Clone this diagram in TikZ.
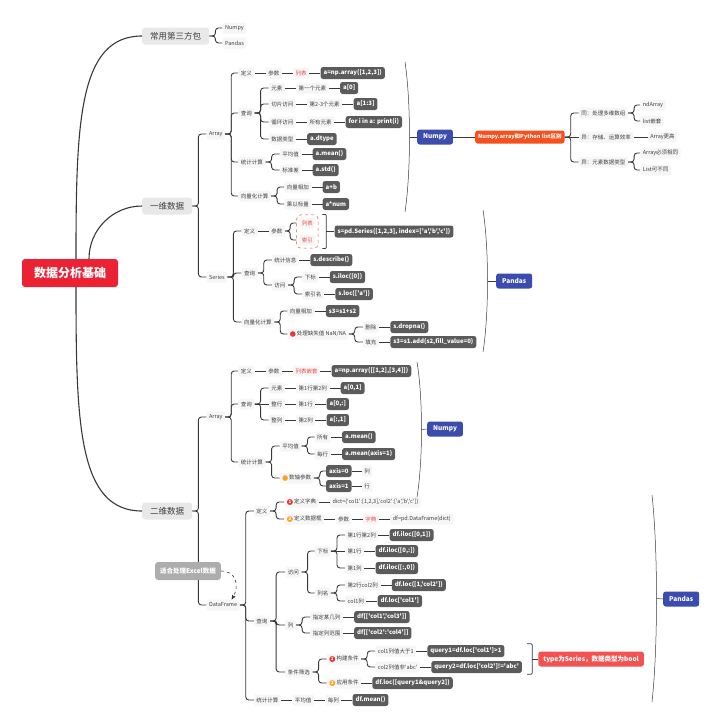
\documentclass[tikz,border=0pt]{standalone}
\usepackage{fontspec}
\setmainfont{Noto Sans CJK SC}[Ligatures=TeXOff]
\usepackage{tikz}
\usetikzlibrary{arrows.meta,positioning,fit,calc}

\definecolor{rootred}{HTML}{EB2233}
\definecolor{topicgray}{HTML}{E8E8E8}
\definecolor{leafgray}{HTML}{F6F6F6}
\definecolor{codegray}{HTML}{5B5B5B}
\definecolor{hubblue}{HTML}{3C4BAE}
\definecolor{diffred}{HTML}{F4511E}
\definecolor{typered}{HTML}{F25252}
\definecolor{xlgray}{HTML}{ADADAD}
\definecolor{linkgray}{HTML}{383838}
\definecolor{hotred}{HTML}{F04848}
\definecolor{dashred}{HTML}{E85050}
\definecolor{dotred}{HTML}{E53935}
\definecolor{dotorange}{HTML}{F6A623}

\newcommand\badge[2]{\tikz[baseline=-0.6ex]\node[circle,fill=#1,text=white,inner sep=0pt,
  minimum size=6pt,font=\bfseries\fontsize{4.5}{4.5}\selectfont]{#2};}
\newcommand\dotmark[1]{\tikz[baseline=-0.6ex]\fill[#1] (0,0) circle (2.8pt);}

\begin{document}
\begin{tikzpicture}[
    x=1pt, y=1pt,
    >={Stealth[round]},
    root/.style={fill=rootred, text=white, rounded corners=3pt,
                 font=\bfseries\fontsize{12}{14}\selectfont, minimum height=28pt, inner xsep=12pt},
    topic/.style={fill=topicgray, text=black!75, rounded corners=3pt,
                  font=\fontsize{8.5}{10}\selectfont, minimum height=17pt, inner xsep=8pt},
    leaf/.style={fill=leafgray, text=black!75, rounded corners=2pt,
                 font=\fontsize{5.5}{6.5}\selectfont, minimum height=11pt, inner xsep=2.5pt, inner ysep=1pt},
    hot/.style={leaf, text=hotred},
    code/.style={fill=codegray, text=white, rounded corners=2.5pt,
                 font=\bfseries\fontsize{6}{7}\selectfont, minimum height=12pt, inner xsep=3pt, inner ysep=1pt},
    hub/.style={fill=hubblue, text=white, rounded corners=2.5pt,
                font=\bfseries\fontsize{6.5}{8}\selectfont, minimum height=15pt, inner xsep=6pt},
    diff/.style={hub, fill=diffred, font=\bfseries\fontsize{5.5}{6.5}\selectfont, minimum height=13pt, inner xsep=3pt},
    typebox/.style={hub, fill=typered, font=\bfseries\fontsize{6.5}{7.5}\selectfont, inner xsep=5pt},
    excel/.style={fill=xlgray, text=white, rounded corners=3pt,
                  font=\bfseries\fontsize{6.5}{7.5}\selectfont, minimum height=18pt, inner xsep=5pt},
    dashbox/.style={draw=dashred, dashed, rounded corners=4pt, inner sep=2.5pt, line width=0.5pt},
    link/.style={draw=linkgray, line width=0.9pt, rounded corners=3pt},
    trunk/.style={draw=linkgray, line width=1.1pt},
    brk/.style={draw=linkgray, line width=0.5pt},
  ]
    \useasboundingbox (0,0) rectangle (720,-728);

    % --- root and main topics ---
    \node[root] (root) at (70,-273) {数据分析基础};
    \node[topic, anchor=west] (pkg) at (142,-36) {常用第三方包};
    \node[topic, anchor=west] (d1) at (142,-206) {一维数据};
    \node[topic, anchor=west] (d2) at (142,-511) {二维数据};

    \node[leaf, right=13pt of pkg, yshift=8pt] (pnp) {Numpy};
    \node[leaf, right=13pt of pkg, yshift=-7pt] (ppd) {Pandas};

    % --- 1D: Array ---
    \node[leaf, right=14pt of d1, yshift=72pt] (a1) {Array};
    \node[leaf, right=13pt of a1, yshift=61pt] (a1def) {定义};
    \node[leaf, right=11pt of a1def] (a1par) {参数};
    \node[hot, right=11pt of a1par] (a1lst) {列表};
    \node[code, right=11pt of a1lst] (a1arr) {a=np.array([1,2,3])};

    \node[leaf, right=13pt of a1, yshift=21pt] (a1qry) {查询};
    \node[leaf, right=14pt of a1qry, yshift=25pt] (a1el) {元素};
    \node[leaf, right=11pt of a1el] (a1first) {第一个元素};
    \node[code, right=11pt of a1first] (a1idx) {a[0]};
    \node[leaf, right=14pt of a1qry, yshift=9pt] (a1sl) {切片访问};
    \node[leaf, right=11pt of a1sl] (a1two) {第2-3个元素};
    \node[code, right=11pt of a1two] (a1slc) {a[1:3]};
    \node[leaf, right=14pt of a1qry, yshift=-9pt] (a1lp) {循环访问};
    \node[leaf, right=11pt of a1lp] (a1all) {所有元素};
    \node[code, right=11pt of a1all] (a1for) {for i in a: print(i)};
    \node[leaf, right=14pt of a1qry, yshift=-26pt] (a1ty) {数据类型};
    \node[code, right=11pt of a1ty] (a1dt) {a.dtype};

    \node[leaf, right=13pt of a1, yshift=-28pt] (a1st) {统计计算};
    \node[leaf, right=14pt of a1st, yshift=8pt] (a1avg) {平均值};
    \node[code, right=11pt of a1avg] (a1mean) {a.mean()};
    \node[leaf, right=14pt of a1st, yshift=-8pt] (a1sd) {标准差};
    \node[code, right=11pt of a1sd] (a1std) {a.std()};

    \node[leaf, right=13pt of a1, yshift=-62pt] (a1vc) {向量化计算};
    \node[leaf, right=13pt of a1vc, yshift=9pt] (a1add) {向量相加};
    \node[code, right=11pt of a1add] (a1ab) {a+b};
    \node[leaf, right=13pt of a1vc, yshift=-8pt] (a1mul) {乘以标量};
    \node[code, right=11pt of a1mul] (a1num) {a*num};

    % --- Numpy hub and list comparison ---
    \coordinate (b1t) at (405,-62);
    \coordinate (b1b) at (405,-212);
    \coordinate (b1m) at (409.5,-137);
    \node[hub, anchor=west] (np1) at (417,-137) {Numpy};
    \node[diff, anchor=west] (cmp) at (475,-137) {Numpy.array和Python list区别};
    \node[leaf, right=14pt of cmp, yshift=24pt] (same) {同：处理多维数组};
    \node[leaf, right=12pt of same, yshift=8pt] (nda) {ndArray};
    \node[leaf, right=12pt of same, yshift=-8pt] (nest) {list嵌套};
    \node[leaf, right=14pt of cmp] (eff) {异：存储、运算效率};
    \node[leaf, right=14pt of eff] (hi) {Array更高};
    \node[leaf, right=14pt of cmp, yshift=-25pt] (dty) {异：元素数据类型};
    \node[leaf, right=12pt of dty, yshift=9pt] (must) {Array必须相同};
    \node[leaf, right=12pt of dty, yshift=-8pt] (may) {List可不同};

    % --- 1D: Series ---
    \node[leaf, right=14pt of d1, yshift=-71pt] (s1) {Series};
    \node[leaf, right=14pt of s1, yshift=46pt] (s1def) {定义};
    \node[leaf, right=11pt of s1def] (s1par) {参数};
    \node[hot, right=14pt of s1par, yshift=8pt] (s1lst) {列表};
    \node[hot, right=14pt of s1par, yshift=-9pt] (s1idx) {索引};
    \node[dashbox, fit=(s1lst)(s1idx)] (s1box) {};
    \coordinate (s1bt) at ([xshift=4pt]s1box.north east);
    \coordinate (s1bb) at ([xshift=4pt]s1box.south east);
    \coordinate (s1bm) at ($(s1bt)!0.5!(s1bb)+(4,0)$);
    \node[code, right=8pt of s1bm] (s1code) {s=pd.Series([1,2,3], index=['a','b','c'])};

    \node[leaf, right=14pt of s1, yshift=4pt] (s1qry) {查询};
    \node[leaf, right=14pt of s1qry, yshift=13pt] (s1info) {统计信息};
    \node[code, right=11pt of s1info] (s1desc) {s.describe()};
    \node[leaf, right=14pt of s1qry, yshift=-12pt] (s1acc) {访问};
    \node[leaf, right=14pt of s1acc, yshift=8pt] (s1sub) {下标};
    \node[code, right=11pt of s1sub] (s1iloc) {s.iloc([0])};
    \node[leaf, right=14pt of s1acc, yshift=-9pt] (s1nm) {索引名};
    \node[code, right=11pt of s1nm] (s1loc) {s.loc(['a'])};

    \node[leaf, right=14pt of s1, yshift=-45pt] (s1vc) {向量化计算};
    \node[leaf, right=13pt of s1vc, yshift=11pt] (s1add) {向量相加};
    \node[code, right=11pt of s1add] (s1sum) {s3=s1+s2};
    \node[leaf, right=13pt of s1vc, yshift=-12pt] (s1na) {\dotmark{dotred}\ 处理缺失值 NaN/NA};
    \node[leaf, right=14pt of s1na, yshift=7pt] (s1del) {删除};
    \node[code, right=11pt of s1del] (s1drop) {s.dropna()};
    \node[leaf, right=14pt of s1na, yshift=-8pt] (s1fill) {填充};
    \node[code, right=11pt of s1fill] (s1fv) {s3=s1.add(s2,fill\_value=0)};

    % --- Pandas hub (Series) ---
    \coordinate (b2t) at (483,-210);
    \coordinate (b2b) at (483,-352);
    \coordinate (b2m) at (487.5,-281);
    \node[hub, anchor=west] (pd1) at (496,-281) {Pandas};

    % --- 2D: Array ---
    \node[leaf, right=14pt of d2, yshift=94pt] (a2) {Array};
    \node[leaf, right=13pt of a2, yshift=46pt] (a2def) {定义};
    \node[leaf, right=11pt of a2def] (a2par) {参数};
    \node[hot, right=11pt of a2par] (a2lst) {列表嵌套};
    \node[code, right=11pt of a2lst] (a2arr) {a=np.array([[1,2],[3,4]])};

    \node[leaf, right=13pt of a2, yshift=13pt] (a2qry) {查询};
    \node[leaf, right=14pt of a2qry, yshift=16pt] (a2el) {元素};
    \node[leaf, right=11pt of a2el] (a2rc) {第1行第2列};
    \node[code, right=11pt of a2rc] (a2e) {a[0,1]};
    \node[leaf, right=14pt of a2qry] (a2row) {整行};
    \node[leaf, right=11pt of a2row] (a2r1) {第1行};
    \node[code, right=11pt of a2r1] (a2r) {a[0,:]};
    \node[leaf, right=14pt of a2qry, yshift=-16pt] (a2col) {整列};
    \node[leaf, right=11pt of a2col] (a2c2) {第2列};
    \node[code, right=11pt of a2c2] (a2c) {a[:,1]};

    \node[leaf, right=13pt of a2, yshift=-45pt] (a2st) {统计计算};
    \node[leaf, right=14pt of a2st, yshift=16pt] (a2avg) {平均值};
    \node[leaf, right=13pt of a2avg, yshift=9pt] (a2all) {所有};
    \node[code, right=11pt of a2all] (a2m) {a.mean()};
    \node[leaf, right=13pt of a2avg, yshift=-8pt] (a2each) {每行};
    \node[code, right=11pt of a2each] (a2mx) {a.mean(axis=1)};
    \node[leaf, right=14pt of a2st, yshift=-16pt] (a2ax) {\dotmark{dotorange}\ 数轴参数};
    \node[code, right=12pt of a2ax, yshift=7pt] (a2x0) {axis=0};
    \node[leaf, right=10pt of a2x0] (a2cl) {列};
    \node[code, right=12pt of a2ax, yshift=-8pt] (a2x1) {axis=1};
    \node[leaf, right=10pt of a2x1] (a2rw) {行};

    % --- Numpy hub (2D) ---
    \coordinate (b3t) at (417,-362);
    \coordinate (b3b) at (417,-497);
    \coordinate (b3m) at (421.5,-429.5);
    \node[hub, anchor=west] (np2) at (427,-429) {Numpy};

    % --- 2D: DataFrame ---
    \node[leaf, right=14pt of d2, yshift=-94pt] (df) {DataFrame};
    \node[leaf, right=14pt of df, yshift=94pt] (dfdef) {定义};
    \node[leaf, right=14pt of dfdef, yshift=9pt] (dfdict) {\badge{dotred}{1}\ 定义字典};
    \node[leaf, right=11pt of dfdict] (dfdv) {dict=\{'col1':[1,2,3],'col2':['a','b','c']\}};
    \node[leaf, right=14pt of dfdef, yshift=-8pt] (dfmk) {\badge{dotorange}{2}\ 定义数据框};
    \node[leaf, right=11pt of dfmk] (dfpar) {参数};
    \node[hot, right=11pt of dfpar] (dfdc) {字典};
    \node[leaf, right=11pt of dfdc] (dfnew) {df=pd.DataFrame(dict)};

    \node[leaf, right=14pt of df, yshift=-16pt] (dfq) {查询};
    \node[leaf, right=15pt of dfq, yshift=49pt] (dfacc) {访问};
    \node[leaf, right=13pt of dfacc, yshift=21pt] (dfsub) {下标};
    \node[leaf, right=14pt of dfsub, yshift=16pt] (dfe) {第1行第2列};
    \node[code, right=11pt of dfe] (dfe1) {df.iloc([0,1])};
    \node[leaf, right=14pt of dfsub] (dfr) {第1行};
    \node[code, right=11pt of dfr] (dfr1) {df.iloc([0,:])};
    \node[leaf, right=14pt of dfsub, yshift=-17pt] (dfc) {第1列};
    \node[code, right=11pt of dfc] (dfc1) {df.iloc([:,0])};
    \node[leaf, right=13pt of dfacc, yshift=-21pt] (dfnm) {列名};
    \node[leaf, right=14pt of dfnm, yshift=8pt] (dfnm2) {第2行col2列};
    \node[code, right=11pt of dfnm2] (dfloc) {df.loc([1,'col2'])};
    \node[leaf, right=14pt of dfnm, yshift=-8pt] (dfnm1) {col1列};
    \node[code, right=11pt of dfnm1] (dfcol) {df.loc['col1']};

    \node[leaf, right=15pt of dfq, yshift=-4pt] (dfcl) {列};
    \node[leaf, right=14pt of dfcl, yshift=8pt] (dfsel) {指定某几列};
    \node[code, right=11pt of dfsel] (dfsel1) {df[['col1','col3']]};
    \node[leaf, right=14pt of dfcl, yshift=-8pt] (dfrg) {指定列范围};
    \node[code, right=11pt of dfrg] (dfrg1) {df[['col2':'col4']]};

    \node[leaf, right=15pt of dfq, yshift=-51pt] (dfflt) {条件筛选};
    \node[leaf, right=14pt of dfflt, yshift=13pt] (dfbuild) {\badge{dotred}{1}\ 构建条件};
    \node[leaf, right=14pt of dfbuild, yshift=8pt] (dfc1g) {col1列值大于1};
    \node[code, right=11pt of dfc1g] (dfq1) {query1=df.loc['col1']>1};
    \node[leaf, right=14pt of dfbuild, yshift=-8pt] (dfc2n) {col2列值非'abc'};
    \node[code, right=11pt of dfc2n] (dfq2) {query2=df.loc['col2']!='abc'};
    \node[leaf, right=14pt of dfflt, yshift=-11pt] (dfapp) {\badge{dotorange}{2}\ 应用条件};
    \node[code, right=11pt of dfapp] (dfq12) {df.loc([query1\&query2])};
    \coordinate (qbt) at ($(dfq1.north -| dfq2.east)+(5,1)$);
    \coordinate (qbb) at ($(dfq2.south -| dfq2.east)+(5,-1)$);
    \coordinate (qbm) at ($(qbt)!0.5!(qbb)+(5,0)$);
    \node[typebox, right=6pt of qbm] (qtype) {type为Series，数据类型为bool};

    \node[leaf, right=14pt of df, yshift=-95pt] (dfst) {统计计算};
    \node[leaf, right=11pt of dfst] (dfavg) {平均值};
    \node[leaf, right=11pt of dfavg] (dfeach) {每列};
    \node[code, right=11pt of dfeach] (dfmean) {df.mean()};

    % --- Pandas hub (DataFrame) ---
    \coordinate (b4t) at (652,-495);
    \coordinate (b4b) at (652,-702);
    \coordinate (b4m) at (656.5,-598.5);
    \node[hub, anchor=west] (pd2) at (663,-599) {Pandas};

    % --- connectors ---
    \draw[trunk] ([xshift=6pt]root.north) to[out=90, in=180, out looseness=1.5, in looseness=0.7] (pkg.west);
    \draw[trunk] ([xshift=19pt]root.north) to[out=90, in=180] (d1.west);
    \draw[trunk] ([xshift=6pt]root.south) to[out=-90, in=180, out looseness=1.5, in looseness=0.7] (d2.west);

    \foreach \p/\k in {pkg/pnp, pkg/ppd, d1/a1, d1/s1,
        a1/a1def, a1/a1qry, a1/a1st, a1/a1vc, a1qry/a1el, a1qry/a1sl, a1qry/a1lp, a1qry/a1ty,
        a1st/a1avg, a1st/a1sd, a1vc/a1add, a1vc/a1mul,
        cmp/same, cmp/dty, same/nda, same/nest, dty/must, dty/may,
        s1/s1def, s1/s1qry, s1/s1vc, s1qry/s1info, s1qry/s1acc, s1acc/s1sub, s1acc/s1nm,
        s1vc/s1add, s1vc/s1na, s1na/s1del, s1na/s1fill,
        d2/a2, d2/df, a2/a2def, a2/a2qry, a2/a2st, a2qry/a2el, a2qry/a2col,
        a2st/a2avg, a2st/a2ax, a2avg/a2all, a2avg/a2each, a2ax/a2x0, a2ax/a2x1,
        df/dfdef, df/dfq, df/dfst, dfdef/dfdict, dfdef/dfmk,
        dfq/dfacc, dfq/dfcl, dfq/dfflt, dfacc/dfsub, dfacc/dfnm,
        dfsub/dfe, dfsub/dfc, dfnm/dfnm2, dfnm/dfnm1, dfcl/dfsel, dfcl/dfrg,
        dfflt/dfbuild, dfflt/dfapp, dfbuild/dfc1g, dfbuild/dfc2n}
      \draw[link] (\p.east) -- ++(6,0) |- (\k.west);

    \foreach \a/\b in {a1def/a1par, a1par/a1lst, a1lst/a1arr, a1el/a1first, a1first/a1idx,
        a1sl/a1two, a1two/a1slc, a1lp/a1all, a1all/a1for, a1ty/a1dt,
        a1avg/a1mean, a1sd/a1std, a1add/a1ab, a1mul/a1num,
        np1/cmp, cmp/eff, eff/hi, s1def/s1par, s1info/s1desc, s1sub/s1iloc, s1nm/s1loc,
        s1add/s1sum, s1del/s1drop, s1fill/s1fv,
        a2def/a2par, a2par/a2lst, a2lst/a2arr, a2el/a2rc, a2rc/a2e, a2qry/a2row, a2row/a2r1, a2r1/a2r,
        a2col/a2c2, a2c2/a2c, a2all/a2m, a2each/a2mx, a2x0/a2cl, a2x1/a2rw,
        dfdict/dfdv, dfmk/dfpar, dfpar/dfdc, dfdc/dfnew, dfe/dfe1, dfsub/dfr, dfr/dfr1, dfc/dfc1,
        dfnm2/dfloc, dfnm1/dfcol, dfsel/dfsel1, dfrg/dfrg1, dfc1g/dfq1, dfc2n/dfq2, dfapp/dfq12,
        dfst/dfavg, dfavg/dfeach, dfeach/dfmean}
      \draw[link] (\a) -- (\b);

    % list / index fork into the dashed box
    \draw[link] (s1par.east) -- ++(5,0) |- (s1lst.west -| s1box.west);
    \draw[link] (s1par.east) -- ++(5,0) |- (s1idx.west -| s1box.west);

    % brackets
    \draw[brk] (b1t) .. controls +(6,-40) and +(6,40) .. (b1b);
    \draw[brk] (b1m) -- (np1.west);
    \draw[brk] (b2t) .. controls +(6,-38) and +(6,38) .. (b2b);
    \draw[brk] (b2m) -- (pd1.west);
    \draw[brk] (b3t) .. controls +(6,-36) and +(6,36) .. (b3b);
    \draw[brk] (b3m) -- (np2.west);
    \draw[brk] (b4t) .. controls +(6,-55) and +(6,55) .. (b4b);
    \draw[brk] (b4m) -- (pd2.west);
    \draw[link, line width=0.7pt, rounded corners=1pt] (s1bt) -| (s1bm) |- (s1bb);
    \draw[link, line width=0.7pt, rounded corners=0pt] (s1bm) -- (s1code.west);
    \draw[link, line width=0.7pt, rounded corners=1pt] (qbt) -| (qbm) |- (qbb);
    \draw[link, line width=0.7pt, rounded corners=0pt] (qbm) -- (qtype.west);

    % Excel note over the spine
    \node[excel] (xl) at (188,-571) {适合处理Excel数据};
    \draw[->, dashed, linkgray, line width=0.6pt] (xl.east) to[out=0, in=60, looseness=1.3] ([xshift=-8pt]df.north east);
  \end{tikzpicture}
\end{document}
